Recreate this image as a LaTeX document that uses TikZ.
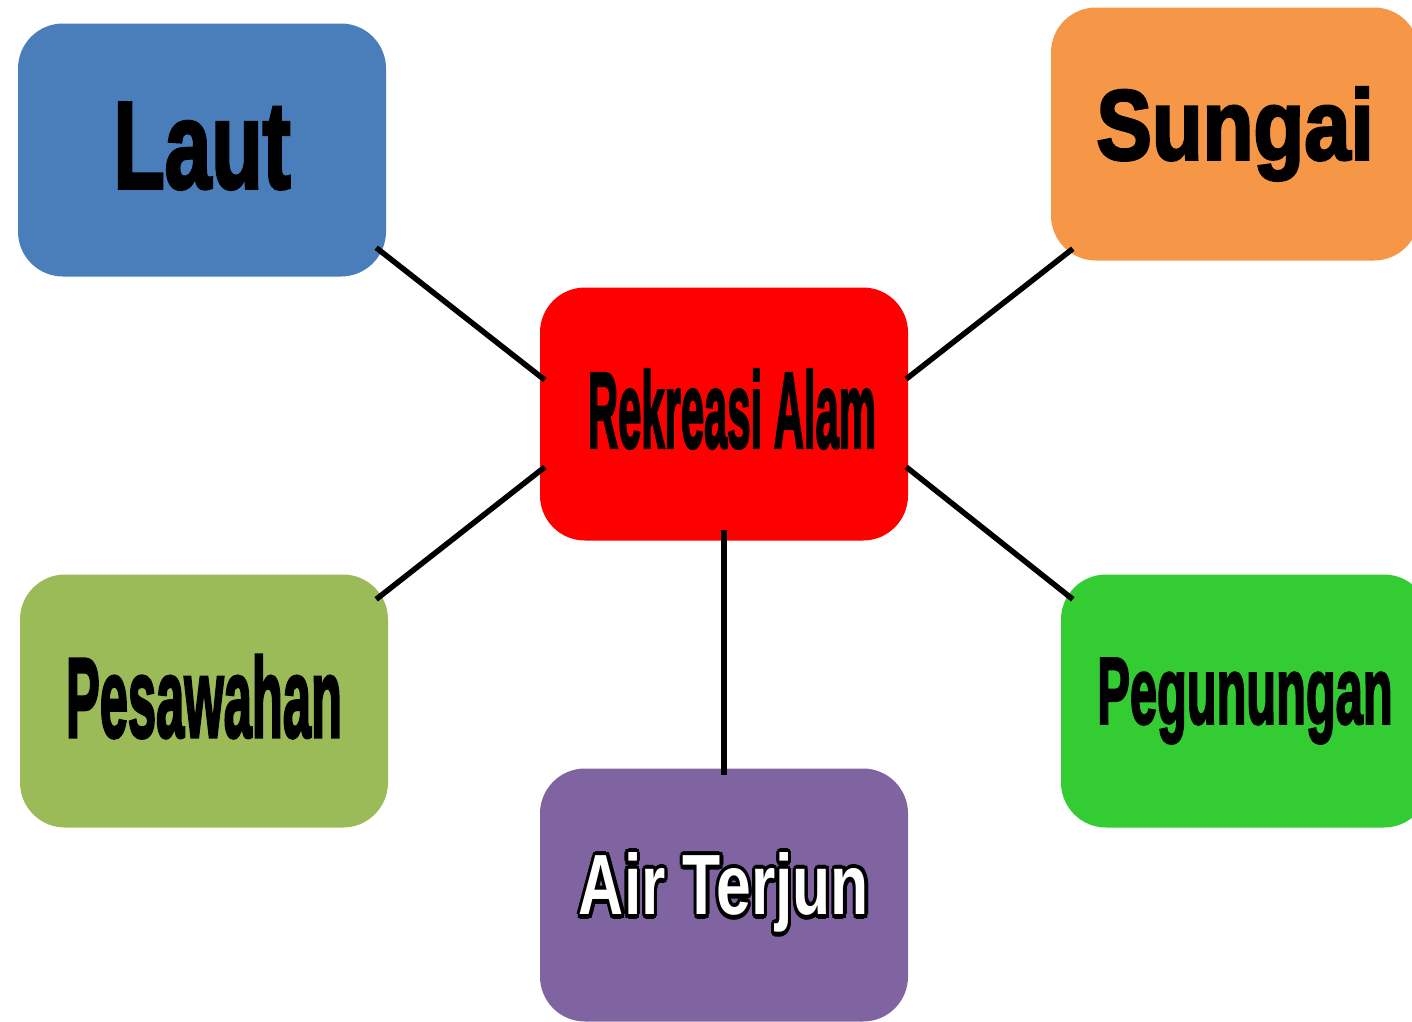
\documentclass[tikz,border=0pt]{standalone}
\usepackage{fontspec}
\setmainfont{Liberation Sans}
\newfontfamily\heavyfont{Liberation Sans Bold}[FakeBold=3]
\usepackage{graphicx}
\usepackage{contour}
\contourlength{0.05em}
\definecolor{lautblue}{HTML}{4A7EBB}
\definecolor{sungaiorange}{HTML}{F59746}
\definecolor{pesagreen}{HTML}{9BBB59}
\definecolor{airpurple}{HTML}{7F64A1}
\definecolor{gunungreen}{HTML}{33CC33}
\newcommand{\boxtext}[3]{\resizebox{#1pt}{#2pt}{\heavyfont #3}}
\tikzset{
  topic/.style={rounded corners=45pt, minimum width=368pt, minimum height=253pt, inner sep=0pt, text=black},
  link/.style={line width=5.5pt}
}
\begin{document}
\begin{tikzpicture}[x=1pt,y=-1pt]
    \useasboundingbox (0,0) rectangle (1412,1021);

    %% the five places round the middle
    \node[topic, fill=lautblue] (laut) at (202,150) {\raisebox{9pt}{\boxtext{177}{85}{Laut}}};
    \node[topic, fill=sungaiorange] (sungai) at (1235,134) {\boxtext{277}{72}{Sungai}};
    \node[topic, fill=red] (rekreasi) at (724,414) {\hspace*{16pt}\raisebox{11pt}{\boxtext{288}{78}{Rekreasi Alam}}};
    \node[topic, fill=pesagreen] (pesawahan) at (204,701) {\raisebox{10pt}{\boxtext{276}{82}{Pesawahan}}};
    \node[topic, fill=gunungreen] (pegunungan) at (1245,701) {\boxtext{295}{65}{Pegunungan}};
    \node[topic, fill=airpurple] (airterjun) at (724,895) {\raisebox{-5pt}{\resizebox{290pt}{62pt}{\bfseries\contour{black}{\color{white}Air Terjun}}}};

    %% connectors
    \draw[link] ([shift={(-10,-29)}]laut.south east) -- ([shift={(5,-34)}]rekreasi.west);
    \draw[link] ([shift={(22,-12)}]sungai.south west) -- ([shift={(-2,-35)}]rekreasi.east);
    \draw[link] ([shift={(-12,25)}]pesawahan.north east) -- ([shift={(5,53)}]rekreasi.west);
    \draw[link] ([shift={(12,25)}]pegunungan.north west) -- ([shift={(-2,53)}]rekreasi.east);
    \draw[link] ([shift={(0,-11)}]rekreasi.south) -- ([shift={(0,7)}]airterjun.north);
\end{tikzpicture}
\end{document}
